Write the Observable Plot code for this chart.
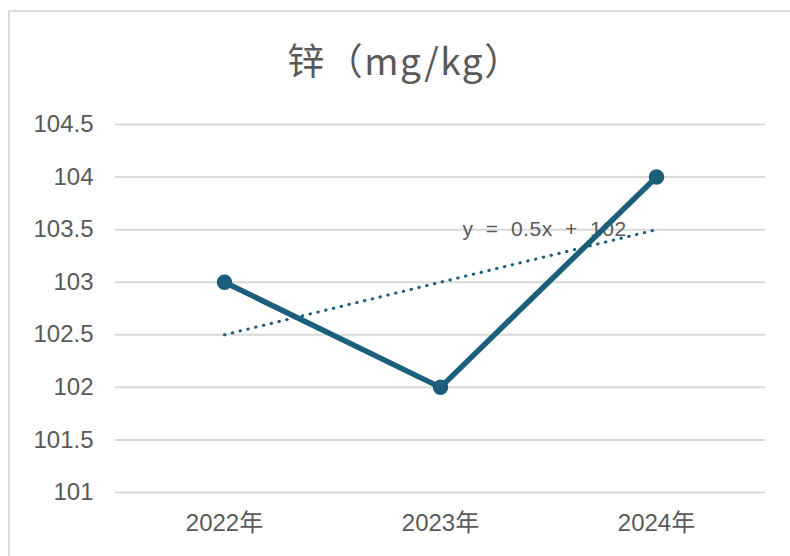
<!DOCTYPE html>
<html>
<head>
<meta charset="utf-8">
<script src="https://cdn.jsdelivr.net/npm/d3@7"></script>
<script src="https://cdn.jsdelivr.net/npm/@observablehq/plot@0.6"></script>
<style>
  html, body { margin: 0; padding: 0; background: #fff; }
  #wrap { position: relative; width: 790px; height: 556px; overflow: hidden; background: #fff; }
  #border { position: absolute; left: 8px; top: 10px; width: 820px; height: 600px; border: 2px solid #dcdcdc; box-sizing: border-box; }
  #chart { position: absolute; left: 0; top: 0; }
  #title { position: absolute; left: 10px; top: 34px; width: 790px; text-align: center; font: 37px "Noto Sans CJK SC", sans-serif; letter-spacing: 1.5px; color: #595959; line-height: 50px; }
</style>
</head>
<body>
<div id="wrap">
  <div id="border"></div>
  <div id="chart"></div>
  <div id="title">锌（mg/kg）</div>
</div>
<script>
const years = ["2022年", "2023年", "2024年"];
const values = [103, 102, 104];
const trendValues = [102.5, 103, 103.5];
const trendLabel = "y = 0.5x + 102";
const yTicks = [101, 101.5, 102, 102.5, 103, 103.5, 104, 104.5];

const data = years.map((y, i) => ({year: y, value: values[i]}));
const trend = years.map((y, i) => ({year: y, value: trendValues[i]}));
const color = "#1c5f7c";
const gray = "#595959";
const font = "'Liberation Sans', 'Noto Sans CJK SC', sans-serif";

const plot = Plot.plot({
  width: 790,
  height: 556,
  marginLeft: 115,
  marginRight: 25,
  marginTop: 124,
  marginBottom: 64,
  style: {fontFamily: font, fontSize: "20px", color: gray, background: "transparent"},
  x: {type: "point", domain: years, padding: 0.5, label: null},
  y: {domain: [101, 104.5], label: null},
  marks: [
    Plot.gridY(yTicks, {stroke: "#d9d9d9", strokeOpacity: 1, strokeWidth: 2}),
    Plot.axisY(yTicks, {tickSize: 0, tickPadding: 22, tickFormat: d => String(d), fill: gray, fontSize: 24, fontFamily: font, label: null}),
    Plot.axisX({tickSize: 0, tickPadding: 21, fill: gray, fontSize: 24, fontFamily: font, label: null}),
    Plot.text([trendLabel], {x: () => years[1], y: () => trendValues[2], text: d => d, textAnchor: "start", dx: 22, fill: gray, fontSize: 21, fontFamily: font}),
    Plot.line([trend[0], trend[2]], {x: "year", y: "value", stroke: color, strokeWidth: 3, strokeDasharray: "0.5,7.5", strokeLinecap: "round"}),
    Plot.line(data, {x: "year", y: "value", stroke: color, strokeWidth: 5.5, strokeLinejoin: "round"}),
    Plot.dot(data, {x: "year", y: "value", r: 7, fill: color, stroke: color})
  ]
});
plot.querySelectorAll("text").forEach(t => {
  if (t.textContent === trendLabel) {
    t.style.letterSpacing = "0.5px";
    t.style.wordSpacing = "6px";
  }
});
document.getElementById("chart").appendChild(plot);
</script>
</body>
</html>
